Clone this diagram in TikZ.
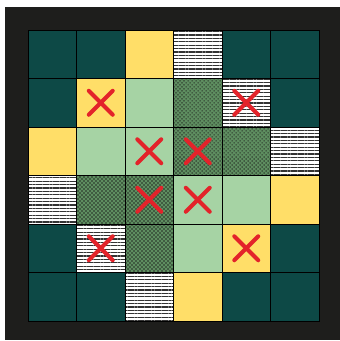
\documentclass[tikz,border=0pt]{standalone}
\usetikzlibrary{patterns.meta}

\definecolor{boardframe}{HTML}{1E1E1C}
\definecolor{darkteal}{HTML}{0D4946}
\definecolor{sandyellow}{HTML}{FFDE68}
\definecolor{palegreen}{HTML}{A6D3A4}
\definecolor{mossgreen}{HTML}{5E8E60}
\definecolor{crossred}{HTML}{E3232A}

\tikzset{
  teal cell/.style={fill=darkteal},
  yellow cell/.style={fill=sandyellow},
  green cell/.style={fill=palegreen},
  dot cell/.style={fill=mossgreen,
    postaction={pattern={Dots[angle=45,distance=2.83pt,radius=0.85pt]}, pattern color=black!90}},
  hatch cell/.style={fill=white,
    postaction={pattern={Lines[angle=0,distance=3.4pt,line width=1.1pt]}, pattern color=black!80}},
  cell edge/.style={draw=black, line width=0.8pt},
  cross mark/.style={draw=crossred, line width=4pt, line cap=round}
}

\begin{document}
\begin{tikzpicture}[x=1pt,y=-1pt]
  \useasboundingbox (0,0) rectangle (340,341);

  % board frame
  \fill[boardframe] (5,7) rectangle (340,340);

  % cells, row by row from the top
  \def\cellsize{48.5}
  \foreach \cells [count=\row from 0] in {
      {teal,teal,yellow,hatch,teal,teal},
      {teal,yellow,green,dot,hatch,teal},
      {yellow,green,green,dot,dot,hatch},
      {hatch,dot,dot,green,green,yellow},
      {teal,hatch,dot,green,yellow,teal},
      {teal,teal,hatch,yellow,teal,teal}} {
    \foreach \kind [count=\col from 0] in \cells {
      \path[\kind\space cell] (28+\col*\cellsize,30+\row*\cellsize) rectangle ++(\cellsize,\cellsize);
      \path[cell edge] (28+\col*\cellsize,30+\row*\cellsize) rectangle ++(\cellsize,\cellsize);
    }
  }

  % red crosses
  \foreach \row/\col in {1/1,1/4,2/2,2/3,3/2,3/3,4/1,4/4} {
    \coordinate (c) at (28+\col*\cellsize+0.5*\cellsize,30+\row*\cellsize+0.5*\cellsize);
    \draw[cross mark] ([shift={(-12,-12)}]c) -- ([shift={(12,12)}]c);
    \draw[cross mark] ([shift={(-12,12)}]c) -- ([shift={(12,-12)}]c);
  }
\end{tikzpicture}
\end{document}
